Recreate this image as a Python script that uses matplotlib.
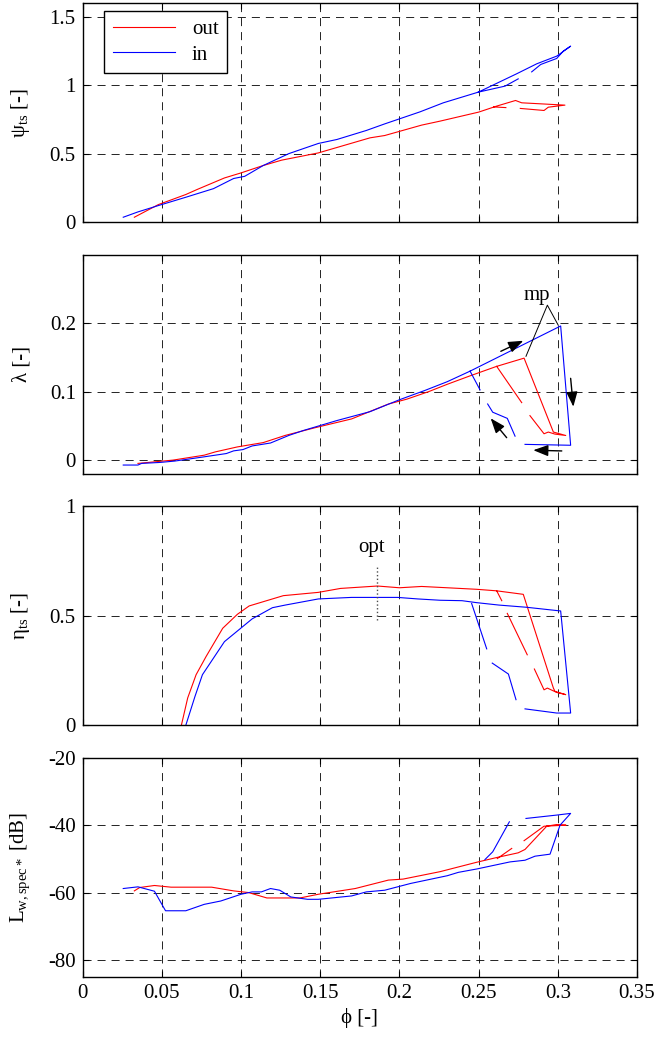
import numpy as np
import matplotlib
matplotlib.use('Agg')
import matplotlib.pyplot as plt

nan = np.nan

# flow coefficient (phi) and the four measured quantities, 'out' and 'in'
# NaN marks a gap in the measured hysteresis loop

# --- psi_ts ---
phi_psi_out = [0.0326, 0.0477, 0.0651, 0.0721, 0.0895, 0.1000, 0.1140, 0.1256,
               0.1488, 0.1814, 0.1907, 0.2140, 0.2256, 0.2500, 0.2614, 0.2733,
               0.2772, 0.3045, 0.2940, 0.2913, 0.2763, nan, 0.2672, 0.2595]
psi_out = [0.037, 0.129, 0.203, 0.239, 0.324, 0.361, 0.415, 0.454,
           0.507, 0.617, 0.634, 0.710, 0.739, 0.805, 0.849, 0.890,
           0.873, 0.856, 0.841, 0.817, 0.832, nan, 0.838, 0.843]
phi_psi_in = [0.0256, 0.0349, 0.0477, 0.0651, 0.0826, 0.0953, 0.1023, 0.1140,
              0.1302, 0.1488, 0.1605, 0.1791, 0.1907, 0.2130, 0.2277, 0.2498,
              0.2740, 0.2867, 0.2993, 0.3081, 0.3035, 0.2993, 0.2892, 0.2835,
              nan, 0.2750, 0.2667, 0.2498]
psi_in = [0.037, 0.076, 0.122, 0.183, 0.246, 0.320, 0.336, 0.415,
          0.502, 0.576, 0.605, 0.671, 0.719, 0.807, 0.873, 0.951,
          1.085, 1.158, 1.214, 1.287, 1.251, 1.197, 1.153, 1.099,
          nan, 1.048, 0.995, 0.951]

# --- lambda ---
phi_lam_out = [0.0349, 0.0570, 0.0767, 0.0837, 0.0977, 0.1140, 0.1279, 0.1465,
               0.1698, 0.1930, 0.2047, 0.2186, 0.2302, 0.2442, 0.2614, 0.2787,
               0.2972, 0.3050, 0.2982, 0.2940, 0.2913, 0.2824, nan, 0.2772, 0.2614]
lam_out = [-0.0048, 0.0, 0.0072, 0.012, 0.0193, 0.0256, 0.0361, 0.0472,
           0.0602, 0.0819, 0.0891, 0.1002, 0.1108, 0.1228, 0.137, 0.149,
           0.041, 0.036, 0.038, 0.041, 0.0385, 0.065, nan, 0.084, 0.137]
phi_lam_in = [0.0256, 0.0349, 0.0372, 0.0488, 0.0581, 0.0767, 0.0907, 0.0953,
              0.1012, 0.1070, 0.1186, 0.1302, 0.1395, 0.1465, 0.1605, 0.1721,
              0.1814, 0.1907, 0.2000, 0.2163, 0.2302, 0.2446, 0.3018, 0.3081,
              0.2793, nan, 0.2730, 0.2681, 0.2589, 0.2557, nan, 0.2509, 0.2446]
lam_in = [-0.0072, -0.0072, -0.0048, -0.0034, -0.0014, 0.0048, 0.0096, 0.0135,
          0.0154, 0.0207, 0.025, 0.0361, 0.0434, 0.0482, 0.0578, 0.065,
          0.0708, 0.0795, 0.0882, 0.102, 0.1146, 0.130, 0.196, 0.0217,
          0.023, nan, 0.035, 0.061, 0.070, 0.082, nan, 0.1026, 0.130]

# --- eta_ts ---
phi_eta_out = [0.0623, 0.0663, 0.0716, 0.0779, 0.0884, 0.0977, 0.1051, 0.1267,
               0.1488, 0.1628, 0.1861, 0.2000, 0.2140, 0.2302, 0.2488, 0.2614,
               0.2782, 0.2972, 0.2982, 0.3050, 0.2993, 0.2934, 0.2913, 0.2852,
               nan, 0.2807, 0.2681, nan, 0.2646, 0.2614]
eta_out = [0.0, 0.125, 0.231, 0.314, 0.443, 0.507, 0.545, 0.592,
           0.607, 0.625, 0.636, 0.628, 0.634, 0.628, 0.621, 0.614,
           0.598, 0.170, 0.155, 0.140, 0.150, 0.170, 0.162, 0.257,
           nan, 0.322, 0.511, nan, 0.569, 0.614]
phi_eta_in = [0.0651, 0.0709, 0.0756, 0.0895, 0.1070, 0.1198, 0.1279, 0.1488,
              0.1698, 0.1988, 0.2116, 0.2256, 0.2395, 0.2488, 0.2628, 0.2802,
              0.3018, 0.3081, 0.2993, 0.2793, nan, 0.2736, 0.2688, 0.2586,
              nan, 0.2551, 0.2456]
eta_in = [0.0, 0.132, 0.231, 0.382, 0.486, 0.537, 0.549, 0.577,
          0.584, 0.584, 0.577, 0.571, 0.569, 0.560, 0.549, 0.539,
          0.522, 0.056, 0.056, 0.075, nan, 0.117, 0.234, 0.284,
          nan, 0.349, 0.556]

# --- L_w,spec* ---
phi_L_out = [0.0326, 0.0360, 0.0453, 0.0558, 0.0814, 0.0953, 0.1047, 0.1163,
             0.1372, 0.1488, 0.1721, 0.1930, 0.2023, 0.2256, 0.2488, 0.2614,
             0.2750, 0.2793, 0.2930, 0.2993, 0.3052, 0.2913, 0.2787, nan,
             0.2709, 0.2618]
L_out = [-59.5, -58.5, -57.9, -58.4, -58.4, -59.5, -60.0, -61.6,
         -61.6, -60.5, -58.8, -56.3, -56.0, -53.8, -51.0, -49.6,
         -48.2, -47.2, -40.3, -39.8, -40.0, -40.3, -44.6, nan,
         -46.9, -49.9]
phi_L_in = [0.0256, 0.0349, 0.0453, 0.0523, 0.0651, 0.0767, 0.0872, 0.1000,
            0.1070, 0.1128, 0.1186, 0.1244, 0.1314, 0.1419, 0.1488, 0.1698,
            0.1791, 0.1907, 0.2070, 0.2302, 0.2372, 0.2488, 0.2698, 0.2793,
            0.2856, 0.2951, 0.3014, 0.3081, 0.2993, 0.2799, nan, 0.2694,
            0.2589, 0.2540]
L_in = [-58.8, -58.3, -59.6, -65.4, -65.4, -63.5, -62.5, -60.5,
        -59.8, -59.8, -58.8, -59.3, -61.3, -62.0, -62.0, -61.0,
        -59.8, -59.3, -57.3, -55.0, -54.0, -53.0, -50.9, -50.4,
        -49.2, -48.6, -40.0, -36.5, -37.0, -38.0, nan, -39.0,
        -47.9, -50.2]

x_ticks = [0, 0.05, 0.1, 0.15, 0.2, 0.25, 0.3, 0.35]
x_ticklabels = ['0', '0.05', '0.1', '0.15', '0.2', '0.25', '0.3', '0.35']

plt.rcParams['font.family'] = ['Liberation Serif', 'DejaVu Serif']
plt.rcParams['mathtext.fontset'] = 'custom'
plt.rcParams['mathtext.rm'] = 'Liberation Serif'
plt.rcParams['mathtext.it'] = 'Liberation Serif:italic'
plt.rcParams['font.size'] = 15
plt.rcParams['lines.scale_dashes'] = False

W, H = 657.0, 1037.0
left = 82.7 / W
width = 554.3 / W
height = 219.0 / H
tops = [3.3, 254.8, 506.3, 757.8]

fig = plt.figure(figsize=(6.57, 10.37), dpi=100)


def make_axes(top, ylim, yticks, yticklabels, ylabel, bottom_labels=False):
    ax = fig.add_axes([left, 1 - (top + 219.0) / H, width, height])
    ax.set_xlim(0, 0.35)
    ax.set_ylim(*ylim)
    ax.set_xticks(x_ticks)
    if bottom_labels:
        ax.set_xticklabels(x_ticklabels)
    else:
        ax.set_xticklabels([])
    ax.set_yticks(yticks)
    ax.set_yticklabels(yticklabels)
    ax.tick_params(direction='in', top=True, right=True, length=4,
                   width=0.8, pad=5, labelsize=15)
    ax.grid(True, color='k', linestyle=(0, (5.8, 4.3)), linewidth=0.6)
    for s in ax.spines.values():
        s.set_linewidth(1.0)
    ax.set_ylabel(ylabel, fontsize=15)
    ax.yaxis.set_label_coords(-0.092, 0.5)
    return ax


ax1 = make_axes(tops[0], (0, 1.6), [0, 0.5, 1, 1.5], ['0', '0.5', '1', '1.5'],
                'ψ$_{\\mathrm{ts}}$ [-]')
ax1.plot(phi_psi_out, psi_out, color='r', lw=0.8, label='out')
ax1.plot(phi_psi_in, psi_in, color='b', lw=0.8, label='in')
leg = ax1.legend(loc='upper left', bbox_to_anchor=(0.039, 0.965),
                 borderaxespad=0, fancybox=False, edgecolor='k',
                 framealpha=1, handlelength=3.0, fontsize=15,
                 borderpad=0.4, labelspacing=0.3)
leg.get_frame().set_linewidth(1.0)

ax2 = make_axes(tops[1], (-0.02, 0.3), [0, 0.1, 0.2], ['0', '0.1', '0.2'],
                'λ [-]')
ax2.plot(phi_lam_out, lam_out, color='r', lw=0.8)
ax2.plot(phi_lam_in, lam_in, color='b', lw=0.8)
# operating direction arrows
arrow = dict(arrowstyle='-|>,head_length=0.45,head_width=0.17',
             color='k', lw=1.0, mutation_scale=20, shrinkA=0, shrinkB=0)
ax2.annotate('', xy=(0.2782, 0.1744), xytext=(0.264, 0.159), arrowprops=arrow)
ax2.annotate('', xy=(0.3098, 0.078), xytext=(0.3081, 0.1195), arrowprops=arrow)
ax2.annotate('', xy=(0.2845, 0.0145), xytext=(0.3025, 0.0134), arrowprops=arrow)
ax2.annotate('', xy=(0.2576, 0.0611), xytext=(0.2677, 0.0328), arrowprops=arrow)
# maximum pressure points
ax2.plot([0.3003, 0.2934, 0.2799], [0.197, 0.2264, 0.1517], color='k', lw=0.7)
ax2.text(0.2869, 0.227, 'mp', ha='center', va='bottom', fontsize=15)

ax3 = make_axes(tops[2], (0, 1), [0, 0.5, 1], ['0', '0.5', '1'],
                'η$_{\\mathrm{ts}}$ [-]')
ax3.plot(phi_eta_out, eta_out, color='r', lw=0.8)
ax3.plot(phi_eta_in, eta_in, color='b', lw=0.8)
ax3.plot([0.186, 0.186], [0.481, 0.724], color='0.3', lw=1.0, linestyle=':')
ax3.text(0.1826, 0.81, 'opt', ha='center', va='center', fontsize=15)

ax4 = make_axes(tops[3], (-85, -20), [-80, -60, -40, -20],
                ['-80', '-60', '-40', '-20'],
                'L$_{\\mathrm{w,spec*}}$ [dB]', bottom_labels=True)
ax4.plot(phi_L_out, L_out, color='r', lw=0.8)
ax4.plot(phi_L_in, L_in, color='b', lw=0.8)
ax4.set_xlabel('ϕ [-]', fontsize=15)

fig.savefig('out.png', dpi=100)
